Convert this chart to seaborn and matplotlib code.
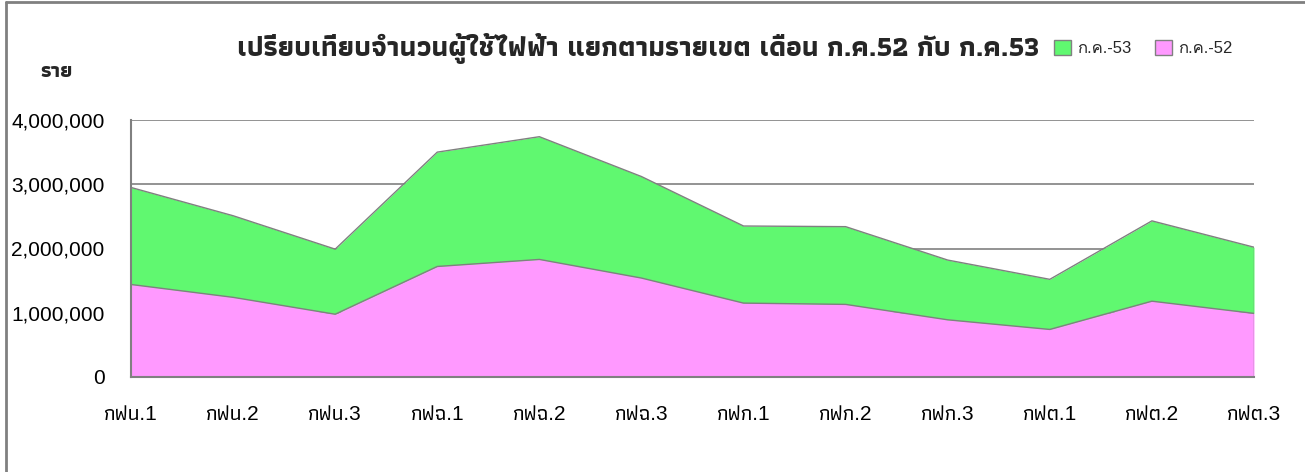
import numpy as np
import pandas as pd
import seaborn as sns
import matplotlib.pyplot as plt
from matplotlib.lines import Line2D
from matplotlib.patches import Patch
from matplotlib.ticker import FuncFormatter

# data
areas = ["กฟน.1", "กฟน.2", "กฟน.3", "กฟฉ.1", "กฟฉ.2", "กฟฉ.3",
         "กฟก.1", "กฟก.2", "กฟก.3", "กฟต.1", "กฟต.2", "กฟต.3"]
users_52 = [1440000, 1240000, 977000, 1720000, 1830000, 1540000,
            1150000, 1130000, 890000, 740000, 1180000, 990000]
users_53 = [1510000, 1270000, 1013000, 1780000, 1910000, 1580000,
            1200000, 1210000, 930000, 780000, 1250000, 1030000]
label_52 = "ก.ค.-52"
label_53 = "ก.ค.-53"
title = "เปรียบเทียบจำนวนผู้ใช้ไฟฟ้า แยกตามรายเขต เดือน ก.ค.52 กับ ก.ค.53"
y_label = "ราย"

sns.set_theme(style="white")
plt.rcParams['font.family'] = ['Liberation Sans', 'Loma', 'DejaVu Sans']
thai_font = ['Athiti', 'Loma', 'DejaVu Sans']
mixed_font = ['Liberation Sans', 'Athiti', 'DejaVu Sans']

df = pd.DataFrame({"area": areas, "y52": users_52, "y53": users_53})
df["x"] = np.arange(len(df))
df["total"] = df["y52"] + df["y53"]

fig = plt.figure(figsize=(13.05, 4.72), dpi=100)
ax = fig.add_axes([131/1305, 1-377/472, (1254-131)/1305, (377-120)/472])

green = "#60F870"
pink = "#FF99FF"
edge = "#808080"

ax.set_axisbelow(True)
ax.yaxis.grid(True, color=edge, linewidth=1.2)
ax.fill_between(df["x"], 0, df["y52"], color=pink, linewidth=0, zorder=2)
ax.fill_between(df["x"], df["y52"], df["total"], color=green, linewidth=0, zorder=2)
sns.lineplot(data=df, x="x", y="y52", color=edge, linewidth=1, ax=ax, zorder=3)
sns.lineplot(data=df, x="x", y="total", color=edge, linewidth=1, ax=ax, zorder=3)
ax.plot([df["x"].iloc[-1]] * 2, [0, df["total"].iloc[-1]], color=edge, linewidth=1, zorder=3)

ax.set_xlim(0, len(df) - 1)
ax.set_ylim(0, 4000000)
ax.set_yticks([0, 1000000, 2000000, 3000000, 4000000])
ax.yaxis.set_major_formatter(FuncFormatter(lambda v, p: f"{int(v):,}"))
ax.set_xticks(df["x"])
ax.set_xticklabels(df["area"], family=mixed_font, fontweight="medium")
ax.tick_params(axis="y", labelsize=15, pad=19, length=0, colors="black")
ax.tick_params(axis="x", labelsize=15, pad=20, length=0, colors="black")
ax.set_xlabel("")
ax.set_ylabel("")
for s in ["top", "right"]:
    ax.spines[s].set_visible(False)
for s in ["left", "bottom"]:
    ax.spines[s].set_color(edge)
    ax.spines[s].set_linewidth(1.5)

fig.text(638/1305, 1-48/472, title, ha="center", va="center", fontsize=20,
         fontweight="bold", family=thai_font)
fig.text(57/1305, 1-72/472, y_label, ha="center", va="center", fontsize=15,
         fontweight="bold", family=thai_font)

handles = [Patch(facecolor=green, edgecolor=edge, label=label_53),
           Patch(facecolor=pink, edgecolor=edge, label=label_52)]
fig.legend(handles=handles, loc="center left", bbox_to_anchor=(1039/1305, 1-48/472),
           ncol=2, frameon=False, fontsize=12, handlelength=1, handleheight=1,
           columnspacing=1.4, handletextpad=0.4)

# outer chart border (only the left and top edges show in the reference)
fig.lines.append(Line2D([6/1305, 6/1305], [0, 1-2/472], transform=fig.transFigure,
                        color=edge, linewidth=2))
fig.lines.append(Line2D([6/1305, 1], [1-2/472, 1-2/472], transform=fig.transFigure,
                        color=edge, linewidth=2))

fig.savefig("out.png", dpi=100)
